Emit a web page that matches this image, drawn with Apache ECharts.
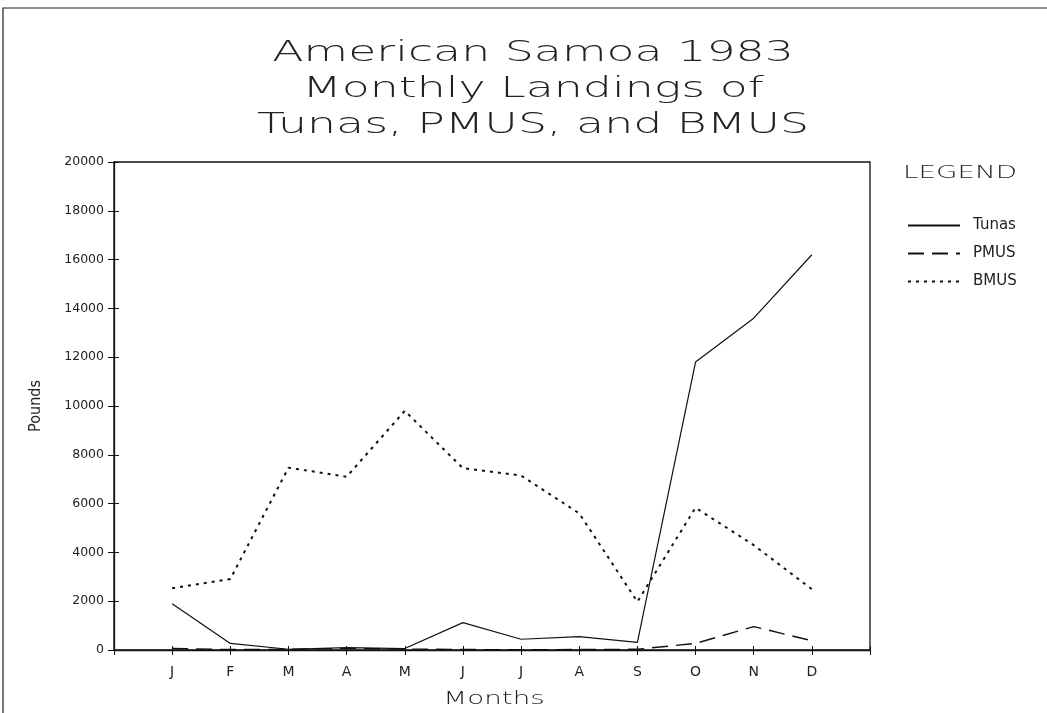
<!DOCTYPE html>
<html>
<head>
<meta charset="utf-8">
<script src="https://cdn.jsdelivr.net/npm/echarts@6/dist/echarts.min.js"></script>
<style>html,body{margin:0;padding:0;background:#fff}#c{width:1047px;height:713px}</style>
</head>
<body>
<div id="c"></div>
<script>
const months = ['J','F','M','A','M','J','J','A','S','O','N','D'];
const tunas = [1900, 270, 30, 100, 60, 1120, 440, 545, 315, 11800, 13600, 16200];
const pmus  = [60, 20, 30, 60, 40, 20, 10, 20, 30, 270, 960, 380];
const bmus  = [2530, 2910, 7470, 7100, 9800, 7450, 7150, 5600, 1980, 5830, 4300, 2490];
const titleLines = ['American Samoa 1983', 'Monthly Landings of', 'Tunas, PMUS, and BMUS'];

const toPairs = arr => arr.map((v, i) => [i + 1, v]);
const font = 'DejaVu Sans';
const chart = echarts.init(document.getElementById('c'), null, {renderer: 'canvas'});

const titleGraphics = titleLines.map((t, i) => ({
  type: 'text', x: 533, y: 53 + i * 36, scaleX: 1.58, silent: true,
  style: {text: t, font: '200 29px "DejaVu Sans"', fill: '#222', textAlign: 'center', textVerticalAlign: 'middle'}
}));

const xBase = {type: 'value', min: 0, max: 13, interval: 1, splitLine: {show: false}};
const yBase = {type: 'value', min: 0, max: 20000, interval: 2000, splitLine: {show: false}};

chart.setOption({
  animation: false,
  backgroundColor: '#fff',
  legend: {
    orient: 'vertical', left: 902, top: 213,
    itemWidth: 52, itemHeight: 10, itemGap: 13,
    itemStyle: {color: 'transparent', borderWidth: 0, opacity: 0},
    textStyle: {fontFamily: font, fontSize: 15, color: '#222', padding: [0, 0, 0, 8]},
    data: ['Tunas', 'PMUS', 'BMUS']
  },
  grid: {left: 114, right: 177, top: 162, bottom: 63, show: true, borderColor: '#111', borderWidth: 1.3},
  xAxis: [
    Object.assign({}, xBase, {
      axisLine: {lineStyle: {color: '#111', width: 1.3}},
      axisTick: {show: true, length: 5, lineStyle: {color: '#111'}},
      axisLabel: {fontFamily: font, fontSize: 14, color: '#222', margin: 15,
        formatter: v => (v >= 1 && v <= 12) ? months[v - 1] : ''}
    }),
    Object.assign({}, xBase, {
      position: 'bottom', axisLine: {show: false},
      axisTick: {show: true, inside: true, length: 4, lineStyle: {color: '#111'}},
      axisLabel: {show: false}
    })
  ],
  yAxis: [
    Object.assign({}, yBase, {
      name: 'Pounds', nameLocation: 'middle', nameGap: 70, nameRotate: 90,
      nameTextStyle: {fontFamily: 'Liberation Sans Narrow, DejaVu Sans Condensed', fontSize: 16, color: '#222'},
      axisLine: {show: true, lineStyle: {color: '#111', width: 1.3}},
      axisTick: {show: true, length: 6, lineStyle: {color: '#111'}},
      axisLabel: {fontFamily: font, fontSize: 12.5, color: '#222', margin: 10, formatter: v => String(v)}
    }),
    Object.assign({}, yBase, {
      position: 'left', axisLine: {show: false},
      axisTick: {show: true, inside: true, length: 5, lineStyle: {color: '#111'}},
      axisLabel: {show: false}
    })
  ],
  series: [
    {name: 'Tunas', type: 'line', data: toPairs(tunas), symbol: 'none',
      lineStyle: {color: '#111', width: 1.2, type: 'solid'}, itemStyle: {color: '#111'}},
    {name: 'PMUS', type: 'line', data: toPairs(pmus), symbol: 'none',
      lineStyle: {color: '#111', width: 1.4, type: [16, 8]}, itemStyle: {color: '#111'}},
    {name: 'BMUS', type: 'line', data: toPairs(bmus), symbol: 'none',
      lineStyle: {color: '#111', width: 2, type: [3, 5]}, itemStyle: {color: '#111'}}
  ],
  graphic: titleGraphics.concat([
    {type: 'text', x: 903, y: 173, scaleX: 1.54, silent: true,
      style: {text: 'LEGEND', font: '200 18px "DejaVu Sans"', fill: '#222', textVerticalAlign: 'middle'}},
    {type: 'text', x: 494, y: 699, scaleX: 1.54, silent: true,
      style: {text: 'Months', font: '200 18px "DejaVu Sans"', fill: '#222', textAlign: 'center', textVerticalAlign: 'middle'}},
    {type: 'rect', shape: {x: 3, y: 8, width: 1050, height: 720},
      style: {fill: null, stroke: '#222', lineWidth: 1.2}, silent: true}
  ])
});
</script>
</body>
</html>
